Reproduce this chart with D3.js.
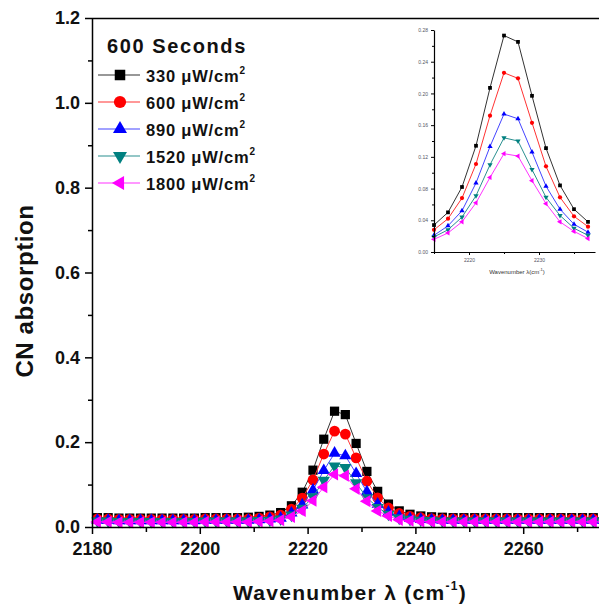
<!DOCTYPE html>
<html>
<head>
<meta charset="utf-8">
<script src="https://cdn.jsdelivr.net/npm/d3@7"></script>
<style>
  body { margin: 0; background: #fff; }
  text { font-family: Arial, "Liberation Sans", sans-serif; }
</style>
</head>
<body>
<div id="container"></div>
<script>
// wavenumbers (cm-1)
var wavenumbers = [2181, 2183, 2185, 2187, 2189, 2191, 2193, 2195, 2197, 2199,
  2201, 2203, 2205, 2207, 2209, 2211, 2213, 2215, 2217, 2219,
  2221, 2223, 2225, 2227, 2229, 2231, 2233, 2235, 2237, 2239,
  2241, 2243, 2245, 2247, 2249, 2251, 2253, 2255, 2257, 2259,
  2261, 2263, 2265, 2267, 2269, 2271, 2273, 2275, 2277, 2279];

var s330 = [0.022, 0.022, 0.021, 0.021, 0.021, 0.021, 0.021, 0.021, 0.021, 0.021,
  0.022, 0.022, 0.022, 0.022, 0.023, 0.025, 0.028, 0.034, 0.050, 0.082,
  0.134, 0.207, 0.273, 0.265, 0.197, 0.131, 0.084, 0.054, 0.038, 0.030,
  0.026, 0.024, 0.023, 0.022, 0.022, 0.022, 0.022, 0.022, 0.022, 0.022,
  0.022, 0.022, 0.022, 0.022, 0.022, 0.022, 0.022, 0.022, 0.022, 0.022];
var s600 = [0.019, 0.019, 0.018, 0.018, 0.018, 0.018, 0.018, 0.018, 0.018, 0.018,
  0.019, 0.019, 0.019, 0.019, 0.019, 0.021, 0.024, 0.028, 0.042, 0.068,
  0.111, 0.172, 0.226, 0.219, 0.163, 0.108, 0.069, 0.045, 0.032, 0.025,
  0.022, 0.020, 0.019, 0.019, 0.019, 0.019, 0.019, 0.019, 0.019, 0.019,
  0.019, 0.019, 0.019, 0.019, 0.019, 0.019, 0.019, 0.019, 0.019, 0.019];
var s890 = [0.016, 0.016, 0.015, 0.015, 0.015, 0.015, 0.015, 0.015, 0.015, 0.015,
  0.016, 0.016, 0.016, 0.016, 0.016, 0.017, 0.019, 0.021, 0.033, 0.052,
  0.087, 0.133, 0.174, 0.168, 0.126, 0.083, 0.054, 0.035, 0.025, 0.020,
  0.018, 0.017, 0.016, 0.016, 0.016, 0.016, 0.016, 0.016, 0.016, 0.016,
  0.016, 0.016, 0.016, 0.016, 0.016, 0.016, 0.016, 0.016, 0.016, 0.016];
var s1520 = [0.014, 0.014, 0.013, 0.013, 0.013, 0.013, 0.013, 0.013, 0.013, 0.013,
  0.014, 0.014, 0.014, 0.014, 0.014, 0.015, 0.016, 0.019, 0.028, 0.044,
  0.071, 0.110, 0.144, 0.140, 0.104, 0.069, 0.046, 0.030, 0.021, 0.018,
  0.016, 0.015, 0.014, 0.014, 0.014, 0.014, 0.014, 0.014, 0.014, 0.014,
  0.014, 0.014, 0.014, 0.014, 0.014, 0.014, 0.014, 0.014, 0.014, 0.014];
var s1800 = [0.012, 0.012, 0.011, 0.011, 0.011, 0.011, 0.011, 0.011, 0.011, 0.011,
  0.012, 0.012, 0.012, 0.012, 0.012, 0.013, 0.014, 0.016, 0.024, 0.038,
  0.062, 0.094, 0.124, 0.121, 0.090, 0.061, 0.038, 0.026, 0.017, 0.015,
  0.013, 0.012, 0.012, 0.012, 0.012, 0.012, 0.012, 0.012, 0.012, 0.012,
  0.012, 0.012, 0.012, 0.012, 0.012, 0.012, 0.012, 0.012, 0.012, 0.012];

var seriesNames = ["330", "600", "890", "1520", "1800"];
var seriesValues = [s330, s600, s890, s1520, s1800];
var markerColors = ["#000000", "#ff0000", "#0000ff", "#008080", "#ff00ff"];
var lineColors = ["#333333", "#ff3333", "#4444ff", "#2a9090", "#ff33ff"];
var shapes = ["square", "circle", "up", "down", "left"];

var yTicks = [0.0, 0.2, 0.4, 0.6, 0.8, 1.0, 1.2];
var xTicks = [2180, 2200, 2220, 2240, 2260];
var insetYTicks = [0.00, 0.04, 0.08, 0.12, 0.16, 0.20, 0.24, 0.28];
var insetXTicks = [2220, 2230];

var svg = d3.select("#container")
  .append("svg")
  .attr("width", 599)
  .attr("height", 607);

var x = d3.scaleLinear().domain([2180, 2280]).range([92, 631]);
var y = d3.scaleLinear().domain([0, 1.2]).range([527, 18]);

function symbolPath(shape, size) {
  var type = shape == "square" ? d3.symbolSquare :
             shape == "circle" ? d3.symbolCircle : d3.symbolTriangle;
  return d3.symbol().type(type).size(size)();
}
function rotation(shape) {
  if (shape == "down") return 180;
  if (shape == "left") return -90;
  return 0;
}
var mainSizes = { square: 85, circle: 90, up: 65, down: 65, left: 65 };
var insetSizes = { square: 14, circle: 14, up: 12, down: 12, left: 12 };

svg.append("clipPath").attr("id", "plotclip")
  .append("rect").attr("x", 80).attr("y", 10).attr("width", 530).attr("height", 525);

// top frame line
svg.append("line")
  .attr("x1", 92).attr("x2", 599).attr("y1", 18.5).attr("y2", 18.5)
  .attr("stroke", "#000").attr("stroke-width", 1.5);

var plot = svg.append("g").attr("clip-path", "url(#plotclip)");

seriesValues.forEach(function(vals, i) {
  var pts = wavenumbers.map(function(w, j) { return [w, vals[j]]; });
  plot.append("path")
    .datum(pts)
    .attr("fill", "none")
    .attr("stroke", lineColors[i])
    .attr("stroke-width", 1)
    .attr("d", d3.line().x(function(d) { return x(d[0]); }).y(function(d) { return y(d[1]); }));
  plot.selectAll(".m" + i)
    .data(pts)
    .enter().append("path")
      .attr("d", symbolPath(shapes[i], mainSizes[shapes[i]]))
      .attr("fill", markerColors[i])
      .attr("transform", function(d) {
        return "translate(" + x(d[0]) + "," + y(d[1]) + ") rotate(" + rotation(shapes[i]) + ")";
      });
});

// axes
function styleAxis(g, size) {
  g.select(".domain").attr("stroke-width", 1.5);
  g.selectAll(".tick line").attr("stroke-width", 1.5);
  g.selectAll(".tick text")
    .attr("font-size", size)
    .attr("font-weight", "bold")
    .attr("fill", "#111");
}

var yAxis = svg.append("g")
  .attr("transform", "translate(92,0)")
  .call(d3.axisLeft(y).tickValues(yTicks).tickFormat(d3.format(".1f")).tickSize(7).tickPadding(5).tickSizeOuter(0));
styleAxis(yAxis, 18);
var yMinor = svg.append("g")
  .attr("transform", "translate(92,0)")
  .call(d3.axisLeft(y).tickValues([0.1, 0.3, 0.5, 0.7, 0.9, 1.1]).tickFormat("").tickSize(4).tickSizeOuter(0));
yMinor.select(".domain").remove();
yMinor.selectAll(".tick line").attr("stroke-width", 1.5);

var xAxis = svg.append("g")
  .attr("transform", "translate(0,527)")
  .call(d3.axisBottom(x).tickValues(xTicks).tickFormat(d3.format("d")).tickSize(7).tickPadding(8).tickSizeOuter(0));
styleAxis(xAxis, 18);
var xMinor = svg.append("g")
  .attr("transform", "translate(0,527)")
  .call(d3.axisBottom(x).tickValues([2190, 2210, 2230, 2250, 2270]).tickFormat("").tickSize(5).tickSizeOuter(0));
xMinor.select(".domain").remove();
xMinor.selectAll(".tick line").attr("stroke-width", 1.5);

// axis titles
svg.append("text")
  .attr("transform", "translate(33,291) rotate(-90)")
  .attr("text-anchor", "middle")
  .attr("font-size", 24)
  .attr("font-weight", "bold")
  .attr("letter-spacing", 0.6)
  .attr("fill", "#111")
  .text("CN absorption");

var xt = svg.append("text")
  .attr("x", 350).attr("y", 600)
  .attr("text-anchor", "middle")
  .attr("font-size", 21)
  .attr("font-weight", "bold")
  .attr("letter-spacing", 1.3)
  .attr("fill", "#111");
xt.append("tspan").text("Wavenumber \u03bb (cm");
xt.append("tspan").attr("dy", -10).attr("font-size", 12).text("-1");
xt.append("tspan").attr("dy", 10).text(")");

// legend
var legend = svg.append("g").attr("transform", "translate(0,0)");
legend.append("text")
  .attr("x", 107).attr("y", 53)
  .attr("font-size", 20)
  .attr("font-weight", "bold")
  .attr("letter-spacing", 1.6)
  .attr("fill", "#111")
  .text("600 Seconds");

var legendItem = legend.selectAll(".legendItem")
  .data(seriesNames)
  .enter().append("g")
    .attr("transform", function(d, i) { return "translate(0," + (75 + i * 27) + ")"; });
legendItem.append("line")
  .attr("x1", 98).attr("x2", 140)
  .attr("stroke", function(d, i) { return lineColors[i]; })
  .attr("stroke-width", 1.2);
legendItem.append("path")
  .attr("d", function(d, i) { return symbolPath(shapes[i], mainSizes[shapes[i]] * 1.3); })
  .attr("fill", function(d, i) { return markerColors[i]; })
  .attr("transform", function(d, i) { return "translate(120,0) rotate(" + rotation(shapes[i]) + ")"; });
var lt = legendItem.append("text")
  .attr("x", 146).attr("y", 7)
  .attr("font-size", 16.5)
  .attr("font-weight", "bold")
  .attr("letter-spacing", 0.8)
  .attr("fill", "#111");
lt.append("tspan").text(function(d) { return d + " \u03bcW/cm"; });
lt.append("tspan").attr("dy", -8).attr("font-size", 10).text("2");

// inset
var ix = d3.scaleLinear().domain([2215, 2238]).range([434, 595]);
var iy = d3.scaleLinear().domain([0, 0.28]).range([252, 30]);
var inset = svg.append("g");

seriesValues.forEach(function(vals, i) {
  var pts = wavenumbers.map(function(w, j) { return [w, vals[j]]; })
    .filter(function(d) { return d[0] >= 2215 && d[0] <= 2238; });
  inset.append("path")
    .datum(pts)
    .attr("fill", "none")
    .attr("stroke", lineColors[i])
    .attr("stroke-width", 1)
    .attr("d", d3.line().x(function(d) { return ix(d[0]); }).y(function(d) { return iy(d[1]); }));
  inset.selectAll(".im" + i)
    .data(pts)
    .enter().append("path")
      .attr("d", symbolPath(shapes[i], insetSizes[shapes[i]]))
      .attr("fill", markerColors[i])
      .attr("transform", function(d) {
        return "translate(" + ix(d[0]) + "," + iy(d[1]) + ") rotate(" + rotation(shapes[i]) + ")";
      });
});

var iyAxis = inset.append("g")
  .attr("transform", "translate(434,0)")
  .call(d3.axisLeft(iy).tickValues(insetYTicks).tickFormat(d3.format(".2f")).tickSize(3).tickPadding(3).tickSizeOuter(0));
var iyMinor = inset.append("g")
  .attr("transform", "translate(434,0)")
  .call(d3.axisLeft(iy).tickValues([0.02, 0.06, 0.10, 0.14, 0.18, 0.22, 0.26]).tickFormat("").tickSize(2).tickSizeOuter(0));
iyMinor.select(".domain").remove();
var ixAxis = inset.append("g")
  .attr("transform", "translate(0,252)")
  .call(d3.axisBottom(ix).tickValues(insetXTicks).tickFormat(d3.format("d")).tickSize(3).tickPadding(3).tickSizeOuter(0));
var ixMinor = inset.append("g")
  .attr("transform", "translate(0,252)")
  .call(d3.axisBottom(ix).tickValues([2215, 2225, 2235]).tickFormat("").tickSize(2).tickSizeOuter(0));
ixMinor.select(".domain").remove();
[iyAxis, ixAxis].forEach(function(g) {
  g.select(".domain").attr("stroke-width", 1.2);
  g.selectAll(".tick text").attr("font-size", 5).attr("fill", "#556");
});

var it = inset.append("text")
  .attr("x", 517).attr("y", 274)
  .attr("text-anchor", "middle")
  .attr("font-size", 6)
  .attr("fill", "#333");
it.append("tspan").text("Wavenumber \u03bb(cm");
it.append("tspan").attr("dy", -3).attr("font-size", 4).text("-1");
it.append("tspan").attr("dy", 3).text(")");
</script>
</body>
</html>
